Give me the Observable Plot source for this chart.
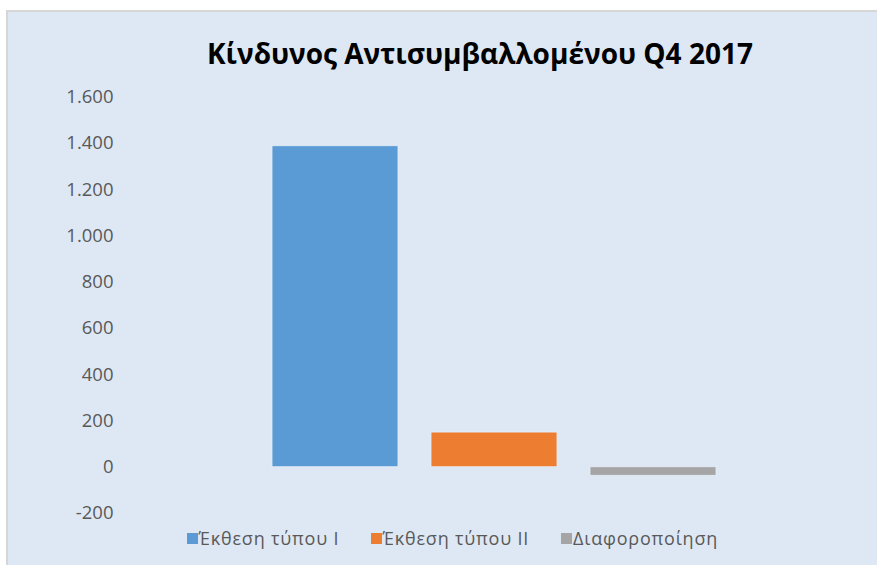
<!DOCTYPE html>
<html>
<head>
<meta charset="utf-8">
<script src="https://cdn.jsdelivr.net/npm/d3@7"></script>
<script src="https://cdn.jsdelivr.net/npm/@observablehq/plot@0.6"></script>
<style>
  html, body { margin: 0; padding: 0; background: #ffffff; width: 877px; height: 565px; overflow: hidden; }
  #panel { position: absolute; left: 6px; top: 10px; width: 871px; height: 555px; background: #dde8f4;
           border-left: 2px solid #d6d6d6; border-top: 2px solid #d6d6d6; box-sizing: border-box; }
  #title { position: absolute; left: 0; top: 0; width: 877px; text-align: left; white-space: nowrap;
           font-family: "Open Sans", sans-serif; font-weight: 700; color: #000; }
  #chart { position: absolute; left: 0; top: 80px; }
  #legend { position: absolute; top: 526px; left: 0; width: 877px; height: 24px;
            font-family: "Open Sans", sans-serif; font-size: 18px; letter-spacing: 0.8px; color: #595959; }
  .item { position: absolute; top: 0; height: 24px; display: flex; align-items: center; white-space: nowrap; }
  .sw { width: 11px; height: 11px; margin-right: 1px; display: inline-block; }
</style>
</head>
<body>
<div id="panel"></div>
<div id="title"></div>
<div id="chart"></div>
<div id="legend"></div>
<script>
const titleText = "Κίνδυνος Αντισυμβαλλομένου Q4 2017";
const series = ["Έκθεση τύπου Ι", "Έκθεση τύπου ΙΙ", "Διαφοροποίηση"];
const values = [1388, 150, -37];
const colors = ["#5b9bd5", "#ed7d31", "#a5a5a5"];
const yTicks = [-200, 0, 200, 400, 600, 800, 1000, 1200, 1400, 1600];

const data = series.map((s, i) => ({series: s, value: values[i]}));

const locale = d3.formatLocale({decimal: ",", thousands: ".", grouping: [3], currency: ["", "€"], minus: "-"});
const fmt = locale.format(",");

// Title: fit to the reference width
const title = document.getElementById("title");
title.textContent = titleText;
const ctx = document.createElement("canvas").getContext("2d");
ctx.font = '700 100px "Open Sans"';
const w100 = ctx.measureText(titleText).width;
const fs = 100 * 546 / w100;
title.style.fontSize = fs + "px";
title.style.lineHeight = fs + "px";
title.style.left = "207px";
title.style.top = (63.5 - 0.888 * fs) + "px";

const chart = Plot.plot({
  width: 877,
  height: 450,
  marginLeft: 118.5,
  marginRight: 8.5,
  marginTop: 16.7,
  marginBottom: 17,
  style: {background: "transparent", fontFamily: "'Open Sans', sans-serif", fontSize: "18.5px", color: "#595959"},
  x: {domain: series, paddingInner: 0.21, paddingOuter: 0.956, axis: null},
  y: {domain: [-200, 1600], ticks: yTicks},
  color: {domain: series, range: colors},
  marks: [
    Plot.axisY({ticks: yTicks, tickSize: 0, tickPadding: 5.5, tickFormat: fmt, fill: "#595959", fontSize: 18.5, label: null}),
    Plot.barY(data, {x: "series", y: "value", fill: "series", stroke: "#e8eef7", strokeWidth: 0.8})
  ]
});
document.getElementById("chart").appendChild(chart);

// Legend
const legend = document.getElementById("legend");
const lefts = [186.5, 370.5, 561];
series.forEach((s, i) => {
  const it = document.createElement("div");
  it.className = "item";
  it.style.left = lefts[i] + "px";
  const sw = document.createElement("span");
  sw.className = "sw";
  sw.style.background = colors[i];
  const tx = document.createElement("span");
  tx.textContent = s;
  it.appendChild(sw); it.appendChild(tx);
  legend.appendChild(it);
});
</script>
</body>
</html>
